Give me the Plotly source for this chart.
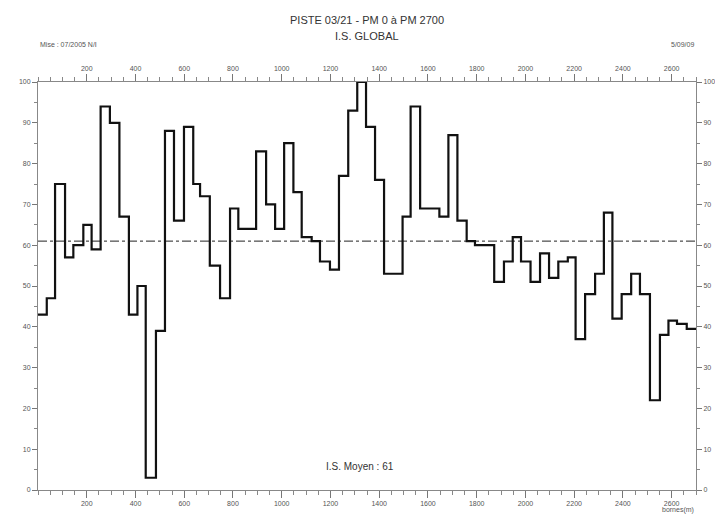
import plotly.graph_objects as go

# ---- data ----
seg_start_m = [0, 36, 70, 111, 145, 186, 220, 257, 295, 334,
               373, 408, 442, 484, 521, 558, 599, 637, 665, 705,
               747, 788, 822, 895, 936, 973, 1010, 1048, 1082, 1123,
               1157, 1198, 1235, 1273, 1310, 1346, 1383, 1420, 1496, 1529,
               1568, 1647, 1684, 1721, 1759, 1793, 1872, 1912, 1948, 1982,
               2021, 2060, 2097, 2135, 2174, 2206, 2245, 2286, 2322, 2357,
               2395, 2434, 2470, 2511, 2552, 2587, 2622, 2662]
is_values = [43, 47, 75, 57, 60, 65, 59, 94, 90, 67,
             43, 50, 3, 39, 88, 66, 89, 75, 72, 55,
             47, 69, 64, 83, 70, 64, 85, 73, 62, 61,
             56, 54, 77, 93, 100, 89, 76, 53, 67, 94,
             69, 67, 87, 66, 61, 60, 51, 56, 62, 56,
             51, 58, 52, 56, 57, 37, 48, 53, 68, 42,
             48, 53, 48, 22, 38, 41.5, 40.7, 39.5]
pm_end = 2700
is_mean = 61

x_tick_vals = list(range(200, 2601, 200))
x_tick_text = [str(v) for v in x_tick_vals]
y_tick_vals = list(range(0, 101, 10))
y_tick_text = [str(v) for v in y_tick_vals]

title_line1 = "PISTE 03/21 - PM 0 à PM 2700"
title_line2 = "I.S. GLOBAL"
left_note = "Mise : 07/2005 N/I"
right_note = "5/09/09"
mean_label = f"I.S. Moyen : {is_mean}"
unit_label = "bornes(m)"

# ---- figure ----
FONT = "Liberation Sans, Arial, sans-serif"
xs = seg_start_m + [pm_end]
ys = is_values + [is_values[-1]]

fig = go.Figure()
fig.add_trace(go.Scatter(x=[0, pm_end], y=[is_mean, is_mean], mode="lines",
                         line=dict(color="#222", width=1, dash="dashdot"),
                         hoverinfo="skip", showlegend=False))
fig.add_trace(go.Scatter(x=xs, y=ys, mode="lines", line_shape="hv",
                         line=dict(color="#111", width=2.2),
                         showlegend=False))
# invisible trace for the mirrored (top / right) axes
fig.add_trace(go.Scatter(x=[0, pm_end], y=[0, 100], xaxis="x2", yaxis="y2",
                         mode="markers", marker=dict(opacity=0),
                         hoverinfo="skip", showlegend=False))

tick_font = dict(family=FONT, size=7, color="#555")
xcommon = dict(range=[0, pm_end], tickmode="array", tickvals=x_tick_vals,
               ticktext=x_tick_text, ticks="outside", ticklen=7, tickwidth=1,
               tickcolor="#777", tickfont=tick_font, showgrid=False,
               zeroline=False, showline=True, linecolor="#888", linewidth=1,
               automargin=False,
               minor=dict(dtick=50, tick0=0, ticks="outside", ticklen=4,
                          tickcolor="#888", showgrid=False))
ycommon = dict(range=[0, 100], tickmode="array", tickvals=y_tick_vals,
               ticktext=y_tick_text, ticks="outside", ticklen=5, tickwidth=1,
               tickcolor="#777", tickfont=tick_font, showgrid=False,
               zeroline=False, showline=True, linecolor="#888", linewidth=1,
               automargin=False,
               minor=dict(dtick=5, tick0=0, ticks="outside", ticklen=3,
                          tickcolor="#888", showgrid=False))

fig.update_layout(
    width=715, height=515,
    margin=dict(l=38, r=19, t=82, b=25),
    paper_bgcolor="white", plot_bgcolor="white",
    font=dict(family=FONT, color="#333"),
    xaxis=dict(**xcommon, side="bottom"),
    xaxis2=dict(**xcommon, side="top", overlaying="x", matches="x"),
    yaxis=dict(**ycommon, side="left"),
    yaxis2=dict(**ycommon, side="right", overlaying="y", matches="y"),
    annotations=[
        dict(text=title_line1, x=0.5, y=1, xref="paper", yref="paper",
             xanchor="center", yanchor="bottom", yshift=54, showarrow=False,
             font=dict(family=FONT, size=11, color="#333")),
        dict(text=title_line2, x=0.5, y=1, xref="paper", yref="paper",
             xanchor="center", yanchor="bottom", yshift=38, showarrow=False,
             font=dict(family=FONT, size=11, color="#333")),
        dict(text=left_note, x=0, y=1, xref="paper", yref="paper",
             xanchor="left", yanchor="bottom", yshift=32, showarrow=False,
             font=dict(family=FONT, size=7, color="#555")),
        dict(text=right_note, x=1, y=1, xref="paper", yref="paper",
             xanchor="right", yanchor="bottom", yshift=32, showarrow=False,
             font=dict(family=FONT, size=7, color="#555")),
        dict(text=mean_label, x=0.49, y=0, xref="paper", yref="paper",
             xanchor="center", yanchor="bottom", yshift=16, showarrow=False,
             font=dict(family=FONT, size=10, color="#333")),
        dict(text=unit_label, x=1, y=0, xref="paper", yref="paper",
             xanchor="right", yanchor="top", yshift=-14, showarrow=False,
             font=dict(family=FONT, size=7, color="#555")),
    ],
)

fig.write_html("out.html")
